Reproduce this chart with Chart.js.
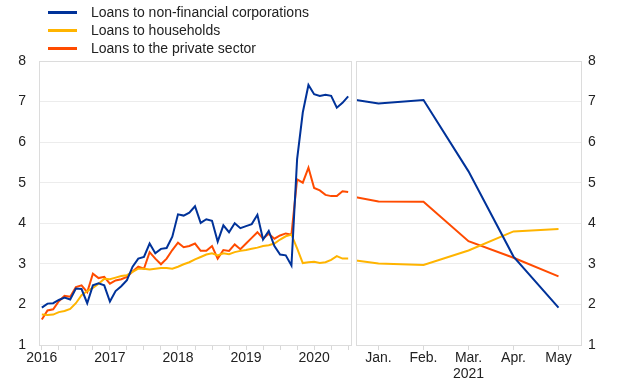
<!DOCTYPE html>
<html>
<head>
<meta charset="utf-8">
<script src="https://cdn.jsdelivr.net/npm/chart.js@4"></script>
<style>
  body { margin: 0; background: #fff; font-family: "Liberation Sans", Arial, sans-serif; }
  #wrap { position: relative; width: 620px; height: 387px; }
  #leftBox { position: absolute; left: 0; top: 0; width: 354px; height: 387px; }
  #rightBox { position: absolute; left: 354px; top: 0; width: 266px; height: 387px; }
  #legend { position: absolute; left: 48px; top: 3px; font-size: 14px; color: #222; }
  .item { height: 18px; line-height: 18px; white-space: nowrap; }
  .swatch { display: inline-block; width: 29px; height: 2.5px; vertical-align: middle; margin-right: 14px; position: relative; top: -1px; }
</style>
</head>
<body>
<div id="wrap">
  <div id="leftBox"><canvas id="leftChart"></canvas></div>
  <div id="rightBox"><canvas id="rightChart"></canvas></div>
  <div id="legend"></div>
</div>
<script>
// monthly series, Jan 2016 - Jul 2020
const startYear = 2016;
const yearLabels = ['2016', '2017', '2018', '2019', '2020'];

const nfcLoans = [1.92, 2.02, 2.03, 2.11, 2.17, 2.12, 2.39, 2.38, 2.03, 2.47, 2.52, 2.47,
  2.07, 2.33, 2.45, 2.60, 2.93, 3.13, 3.17, 3.50, 3.26, 3.37, 3.39, 3.67,
  4.22, 4.19, 4.26, 4.42, 4.01, 4.10, 4.06, 3.55, 3.95, 3.78, 4.00, 3.88,
  3.93, 3.98, 4.21, 3.60, 3.81, 3.44, 3.23, 3.21, 2.96, 5.58, 6.73, 7.41,
  7.18, 7.14, 7.17, 7.14, 6.85, 6.97, 7.13];
const householdLoans = [1.75, 1.74, 1.75, 1.81, 1.84, 1.89, 2.03, 2.23, 2.33, 2.41, 2.51, 2.63,
  2.62, 2.66, 2.70, 2.72, 2.80, 2.88, 2.88, 2.86, 2.88, 2.90, 2.90, 2.88,
  2.93, 2.99, 3.04, 3.11, 3.17, 3.23, 3.26, 3.21, 3.26, 3.24, 3.29, 3.32,
  3.34, 3.37, 3.40, 3.44, 3.46, 3.50, 3.60, 3.68, 3.72, 3.38, 3.02, 3.04,
  3.05, 3.02, 3.04, 3.10, 3.19, 3.13, 3.13];
const privateLoans = [1.63, 1.85, 1.88, 2.08, 2.21, 2.19, 2.43, 2.47, 2.30, 2.76, 2.65, 2.68,
  2.51, 2.59, 2.62, 2.68, 2.81, 2.93, 2.88, 3.29, 3.13, 2.99, 3.13, 3.34,
  3.52, 3.41, 3.44, 3.50, 3.32, 3.32, 3.44, 3.13, 3.34, 3.32, 3.48, 3.36,
  3.50, 3.64, 3.78, 3.62, 3.74, 3.62, 3.70, 3.75, 3.72, 5.08, 5.00, 5.37,
  4.87, 4.81, 4.70, 4.67, 4.67, 4.79, 4.77];

// 2021 panel: first point is end-2020 (placed on the panel edge)
const monthLabels2021 = ['Jan.', 'Feb.', 'Mar.', 'Apr.', 'May'];
const pos2021 = [0.5, 1, 2, 3, 4, 5];
const nfc2021 = [7.04, 6.95, 7.04, 5.28, 3.18, 1.92];
const household2021 = [3.08, 3.01, 2.97, 3.33, 3.80, 3.86];
const private2021 = [4.64, 4.54, 4.53, 3.56, 3.15, 2.69];

const seriesNames = ['Loans to non-financial corporations', 'Loans to households', 'Loans to the private sector'];
const colours = ['#003299', '#ffb400', '#ff4b00'];

Chart.defaults.font.family = '"Liberation Sans", Arial, sans-serif';
Chart.defaults.font.size = 14;
Chart.defaults.color = '#222';

// legend
const legend = document.getElementById('legend');
seriesNames.forEach((name, i) => {
  const row = document.createElement('div');
  row.className = 'item';
  row.innerHTML = '<span class="swatch" style="background:' + colours[i] + '"></span>' + name;
  legend.appendChild(row);
});

// light box around each panel
const panelBox = {
  id: 'panelBox',
  afterDraw(chart) {
    const a = chart.chartArea, c = chart.ctx;
    c.save();
    c.strokeStyle = '#dcdcdc';
    c.lineWidth = 1;
    c.strokeRect(Math.round(a.left) + 0.5, Math.round(a.top) + 0.5, Math.round(a.right - a.left), Math.round(a.bottom - a.top));
    c.restore();
  }
};

function lineSet(data, i) {
  return {
    label: seriesNames[i],
    data: data,
    borderColor: colours[i],
    backgroundColor: colours[i],
    borderWidth: 2,
    pointRadius: 0,
    tension: 0,
    fill: false
  };
}

const yScale = (pos, pad) => ({
  position: pos,
  min: 1,
  max: 8,
  ticks: { stepSize: 1, padding: pad, color: '#222' },
  grid: { color: '#ececec', drawTicks: false },
  border: { display: false },
  afterFit(s) { s.width = 39; }
});

const months = nfcLoans.map((v, i) => (startYear + Math.floor(i / 12)) + '-' + (i % 12 + 1));

new Chart(document.getElementById('leftChart'), {
  type: 'line',
  data: {
    labels: months,
    datasets: [lineSet(nfcLoans, 0), lineSet(householdLoans, 1), lineSet(privateLoans, 2)]
  },
  options: {
    responsive: true,
    maintainAspectRatio: false,
    animation: false,
    layout: { padding: { top: 61, right: 3, left: 0, bottom: 0 } },
    plugins: { legend: { display: false }, tooltip: { enabled: false } },
    scales: {
      x: {
        offset: true,
        grid: {
          offset: false,
          drawOnChartArea: false,
          tickLength: 5,
          tickColor: ctx => (ctx.index % 3 === 0 ? '#d8d8d8' : 'rgba(0,0,0,0)')
        },
        border: { display: false },
        ticks: {
          autoSkip: false,
          maxRotation: 0,
          padding: 0,
          color: '#222',
          callback: (v, i) => (i % 12 === 0 ? yearLabels[i / 12] : '')
        },
        afterFit(s) { s.height = 42; }
      },
      y: yScale('left', 13)
    }
  },
  plugins: [panelBox]
});

new Chart(document.getElementById('rightChart'), {
  type: 'line',
  data: {
    datasets: [
      lineSet(nfc2021.map((v, i) => ({ x: pos2021[i], y: v })), 0),
      lineSet(household2021.map((v, i) => ({ x: pos2021[i], y: v })), 1),
      lineSet(private2021.map((v, i) => ({ x: pos2021[i], y: v })), 2)
    ]
  },
  options: {
    responsive: true,
    maintainAspectRatio: false,
    animation: false,
    layout: { padding: { top: 61, right: 0, left: 2, bottom: 0 } },
    plugins: { legend: { display: false }, tooltip: { enabled: false } },
    scales: {
      x: {
        type: 'linear',
        min: 0.5,
        max: 5.5,
        afterBuildTicks(s) { s.ticks = monthLabels2021.map((m, i) => ({ value: i + 1 })); },
        grid: { drawOnChartArea: false, tickLength: 5, tickColor: '#d8d8d8' },
        border: { display: false },
        ticks: {
          padding: 0,
          maxRotation: 0,
          color: '#222',
          callback: v => monthLabels2021[v - 1]
        },
        title: { display: true, text: '2021', color: '#222', font: { size: 14 }, padding: { top: 0, bottom: 4 } },
        afterFit(s) { s.height = 42; }
      },
      y: yScale('right', 7)
    }
  },
  plugins: [panelBox]
});
</script>
</body>
</html>
